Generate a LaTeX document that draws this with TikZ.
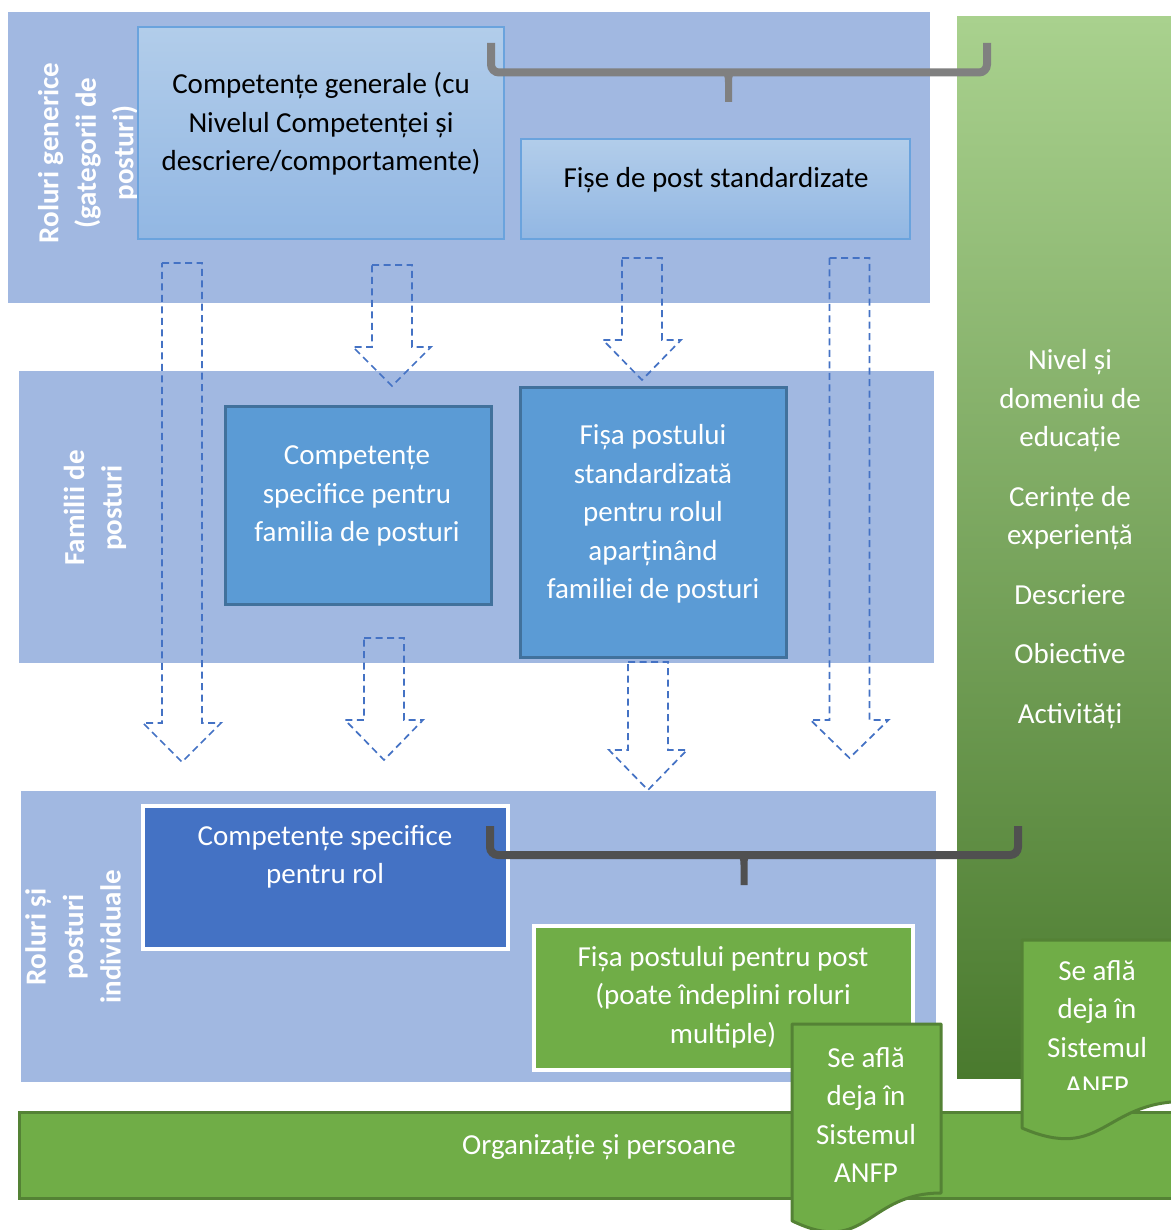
\documentclass[tikz,border=0pt]{standalone}
\usepackage{fontspec}
\setmainfont{Carlito}

\definecolor{bandblue}{HTML}{A1B8E1}
\definecolor{lightTop}{HTML}{B2CDEA}
\definecolor{lightBot}{HTML}{92B7E3}
\definecolor{lightEdge}{HTML}{6AA3DD}
\definecolor{midFill}{HTML}{5B9BD5}
\definecolor{midEdge}{HTML}{41719C}
\definecolor{roleFill}{HTML}{4472C4}
\definecolor{grn}{HTML}{70AD47}
\definecolor{grnEdge}{HTML}{548235}
\definecolor{colTop}{HTML}{A9D18E}
\definecolor{colBot}{HTML}{4A7A2E}
\definecolor{braceA}{HTML}{808080}
\definecolor{braceB}{HTML}{505050}
\definecolor{flowBlue}{HTML}{4472C4}

% hollow dashed block arrow: centre x, top y, neck y, tip y
\newcommand\hollowarrow[4]{%
  \draw[dasharrow] (#1-20,#2) -- (#1+20,#2) -- (#1+20,#3) -- (#1+39,#3)
    -- (#1,#4) -- (#1-39,#3) -- (#1-20,#3) -- cycle;}

% pointed middle of a brace: x, y of the bar, y of the point, colour
\newcommand\bracepoint[4]{%
  \fill[#4] (#1-10,#2) .. controls (#1-4,#2) and (#1-3.5,#2+4) .. (#1-3.5,#2+10)
    -- (#1-3.5,#3) -- (#1+3.5,#3) -- (#1+3.5,#2+10)
    .. controls (#1+3.5,#2+4) and (#1+4,#2) .. (#1+10,#2) -- cycle;}

\begin{document}
\begin{tikzpicture}[x=1pt,y=-1pt,
  every node/.style={font=\fontsize{29}{38.5}\selectfont, inner sep=0pt, outer sep=0pt},
  tier/.style={fill=bandblue, draw=none},
  lightbox/.style={draw=lightEdge, line width=1.5pt, top color=lightTop, bottom color=lightBot},
  midbox/.style={fill=midFill, draw=midEdge, line width=3pt},
  rolebox/.style={fill=roleFill, draw=white, line width=4pt},
  postbox/.style={fill=grn, draw=white, line width=4pt},
  orgbar/.style={fill=grn, draw=grnEdge, line width=3pt},
  docshape/.style={fill=grn, draw=grnEdge, line width=3pt, line join=round},
  darktext/.style={text=black, align=center},
  lighttext/.style={text=white, align=center},
  tierlabel/.style={text=white, align=center, rotate=90,
    font=\fontsize{29}{37.5}\selectfont\bfseries},
  dasharrow/.style={draw=flowBlue, line width=1.7pt, dash pattern=on 7pt off 4.5pt},
  bracebar/.style={line width=8pt, rounded corners=8pt, line cap=butt}
]
\useasboundingbox (0,0) rectangle (1170,1230);

% three horizontal tiers
\node[tier, minimum width=922, minimum height=291] (tierA) at (469,157.5) {};
\node[tier, minimum width=915, minimum height=292] (tierB) at (476.5,517) {};
\node[tier, minimum width=915, minimum height=291] (tierC) at (478.5,936.5) {};

% green column with the job description content
\node[draw=none, minimum width=223, minimum height=1061,
      top color=colTop, middle color=grn, bottom color=colBot] (column) at (1068.5,547.5) {};
\node[lighttext] (colText) at (1070,539)
  {Nivel și\\domeniu de\\educație\\[21pt]Cerințe de\\experiență\\[21pt]Descriere\\[21pt]Obiective\\[21pt]Activități};

% tier labels
\node[tierlabel] (labA) at (88,153) {Roluri generice\\(gategorii de\\posturi)};
\node[tierlabel] (labB) at (95,508) {Familii de\\posturi};
\node[tierlabel] (labC) at (73,937) {Roluri și\\posturi\\individuale};

% generic roles
\node[lightbox, minimum width=366, minimum height=212] (gen) at (321,133) {};
\node[darktext] (genText) at (321,124)
  {Competențe generale (cu\\Nivelul Competenței și\\descriere/comportamente)};
\node[lightbox, minimum width=389, minimum height=100] (std) at (715.5,189) {};
\node[darktext] (stdText) at (716,180) {Fișe de post standardizate};

% job families
\node[midbox, minimum width=266, minimum height=198] (fam) at (358,505) {};
\node[lighttext] (famText) at (357,496)
  {Competențe\\specifice pentru\\familia de posturi};
\node[midbox, minimum width=266, minimum height=270] (fstd) at (653.5,522) {};
\node[lighttext] (fstdText) at (653,514)
  {Fișa postului\\standardizată\\pentru rolul\\aparținând\\familiei de posturi};

% individual roles and posts
\node[rolebox, minimum width=365, minimum height=143] (role) at (325.5,877.5) {};
\node[lighttext] (roleText) at (325,857) {Competențe specifice\\pentru rol};
\node[postbox, minimum width=379, minimum height=144] (post) at (723.5,998) {};
\node[lighttext] (postText) at (723,997)
  {Fișa postului pentru post\\(poate îndeplini roluri\\multiple)};

% dashed block arrows between the tiers
\hollowarrow{182}{263}{723}{762}
\hollowarrow{392}{265}{347}{386}
\hollowarrow{642}{258}{340}{380}
\hollowarrow{849.5}{258}{720}{758}
\hollowarrow{384}{638}{720}{760}
\hollowarrow{648}{662}{750}{790}

% braces
\draw[bracebar, braceA] (491,43) -- (491,72.5) -- (987,72.5) -- (987,43);
\bracepoint{728.5}{72.5}{102}{braceA}
\draw[bracebar, braceB] (490,826) -- (490,855) -- (1018,855) -- (1018,826);
\bracepoint{744}{855}{885}{braceB}

% organisation bar
\node[orgbar, minimum width=1168, minimum height=86] (org) at (603.5,1155.5) {};
\node[lighttext] (orgText) at (599,1147) {Organizație și persoane};

% document shapes
\draw[docshape] (792,1024) -- (941,1024) -- (941,1193)
  .. controls (866.5,1193) and (866.5,1257) .. (792,1220.8) -- cycle;
\node[lighttext] (docAText) at (866,1115) {Se află\\deja în\\Sistemul\\ANFP};

\draw[docshape] (1022,940) -- (1185,940) -- (1185,1101.4)
  .. controls (1103,1101.4) and (1103,1162.8) .. (1022,1128) -- cycle;
\begin{scope}
  \clip (1022,940) rectangle (1185,1089);
  \node[lighttext] (docBText) at (1097,1028) {Se află\\deja în\\Sistemul\\ANFP};
\end{scope}
\end{tikzpicture}
\end{document}
